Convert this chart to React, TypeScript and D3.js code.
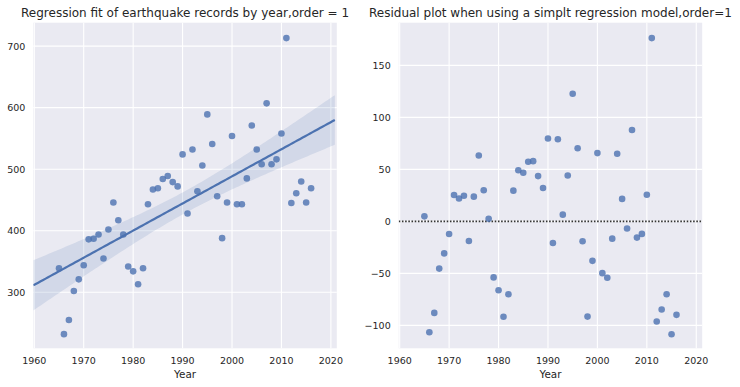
import React from 'react';
import * as d3 from 'd3';

// earthquake counts per year
const years = d3.range(1965, 2017);
const counts = [
  339, 232, 255, 302, 321, 344, 386, 387, 394, 355,
  402, 446, 417, 394, 342, 334, 313, 339, 443, 467,
  469, 484, 489, 479, 472, 524, 428, 532, 464, 506,
  589, 541, 456, 388, 446, 554, 443, 443, 485, 571,
  532, 508, 607, 508, 516, 558, 713, 445, 461, 480,
  446, 469
];

const xTicks = [1960, 1970, 1980, 1990, 2000, 2010, 2020];
const leftYTicks = [300, 400, 500, 600, 700];
const rightYTicks = [-100, -50, 0, 50, 100, 150];

const titles = [
  'Regression fit of earthquake records by year,order = 1',
  'Residual plot when using a simplt regression model,order=1'
];

const width = 740;
const height = 387;
const top = 22.7;
const bottom = 348.3;
const panelW = 303.5;
const panelLefts = [33.3, 398.7];
const color = '#4C72B0';
const textColor = '#262626';
const font = '"DejaVu Sans", sans-serif';

// ordinary least squares fit + 95% confidence band for the mean
function fitLine(xs: number[], ys: number[]) {
  const n = xs.length;
  const mx = d3.mean(xs) as number;
  const my = d3.mean(ys) as number;
  let sxx = 0, sxy = 0;
  xs.forEach((x, i) => {
    sxx += (x - mx) * (x - mx);
    sxy += (x - mx) * (ys[i] - my);
  });
  const slope = sxy / sxx;
  const intercept = my - slope * mx;
  const resid = ys.map((y, i) => y - (intercept + slope * xs[i]));
  const s = Math.sqrt(d3.sum(resid, (r) => r * r) / (n - 2));
  const t = 2.009;
  const predict = (x: number) => intercept + slope * x;
  const ci = (x: number) => t * s * Math.sqrt(1 / n + ((x - mx) * (x - mx)) / sxx);
  return {predict, ci, resid};
}

function Panel(props: {
  left: number;
  title: string;
  yDomain: [number, number];
  yTicks: number[];
  children: (x: d3.ScaleLinear<number, number>, y: d3.ScaleLinear<number, number>) => React.ReactNode;
}) {
  const x = d3.scaleLinear().domain([1959.8, 2021.2]).range([props.left, props.left + panelW]);
  const y = d3.scaleLinear().domain(props.yDomain).range([bottom, top]);
  const fmt = (v: number) => (v < 0 ? '\u2212' + Math.abs(v) : String(v));
  return (
    <g>
      <defs>
        <clipPath id={'clip' + props.left}>
          <rect x={props.left} y={top} width={panelW} height={bottom - top} />
        </clipPath>
      </defs>
      <rect x={props.left} y={top} width={panelW} height={bottom - top} fill="#EAEAF2" />
      {xTicks.map((t) => (
        <line key={'gx' + t} x1={x(t)} x2={x(t)} y1={top} y2={bottom} stroke="#fff" strokeWidth={1.1} />
      ))}
      {props.yTicks.map((t) => (
        <line key={'gy' + t} x1={props.left} x2={props.left + panelW} y1={y(t)} y2={y(t)} stroke="#fff" strokeWidth={1.1} />
      ))}
      <g clipPath={`url(#clip${props.left})`}>{props.children(x, y)}</g>
      {xTicks.map((t) => (
        <text key={'tx' + t} x={x(t)} y={360} textAnchor="middle" dominantBaseline="central"
          fontSize={9.5} fill={textColor} fontFamily={font}>{t}</text>
      ))}
      {props.yTicks.map((t) => (
        <text key={'ty' + t} x={props.left - 8} y={y(t)} textAnchor="end" dominantBaseline="central"
          fontSize={9.5} fill={textColor} fontFamily={font}>{fmt(t)}</text>
      ))}
      <text x={props.left + panelW / 2} y={373.5} textAnchor="middle" dominantBaseline="central"
        fontSize={10.4} fill={textColor} fontFamily={font}>Year</text>
      <text x={props.left + panelW / 2} y={12.5} textAnchor="middle" dominantBaseline="central"
        fontSize={12} fill={textColor} fontFamily={font}>{props.title}</text>
    </g>
  );
}

export default function App() {
  const fit = fitLine(years, counts);
  const lineXs = d3.range(1959.8, 2021.3, 0.5);

  return (
    <div style={{position: 'absolute', left: 0, top: 0}}>
      <svg width={width} height={height} style={{display: 'block', background: '#fff'}}>
        <Panel left={panelLefts[0]} title={titles[0]} yDomain={[209, 738]} yTicks={leftYTicks}>
          {(x, y) => {
            const band = d3.area<number>()
              .x((d) => x(d))
              .y0((d) => y(fit.predict(d) - fit.ci(d)))
              .y1((d) => y(fit.predict(d) + fit.ci(d)));
            const line = d3.line<number>()
              .x((d) => x(d))
              .y((d) => y(fit.predict(d)));
            return (
              <>
                {years.map((yr, i) => (
                  <circle key={yr} cx={x(yr)} cy={y(counts[i])} r={3.3} fill={color} fillOpacity={0.8} />
                ))}
                <path d={band(lineXs) as string} fill={color} fillOpacity={0.15} />
                <path d={line(lineXs) as string} fill="none" stroke={color} strokeWidth={2.2} />
              </>
            );
          }}
        </Panel>
        <Panel left={panelLefts[1]} title={titles[1]} yDomain={[-122, 191]} yTicks={rightYTicks}>
          {(x, y) => (
            <>
              <line x1={panelLefts[1]} x2={panelLefts[1] + panelW} y1={y(0)} y2={y(0)}
                stroke="#333" strokeWidth={1.8} strokeDasharray="1.6,1.6" />
              {years.map((yr, i) => (
                <circle key={yr} cx={x(yr)} cy={y(fit.resid[i])} r={3.3} fill={color} fillOpacity={0.8} />
              ))}
            </>
          )}
        </Panel>
      </svg>
    </div>
  );
}
